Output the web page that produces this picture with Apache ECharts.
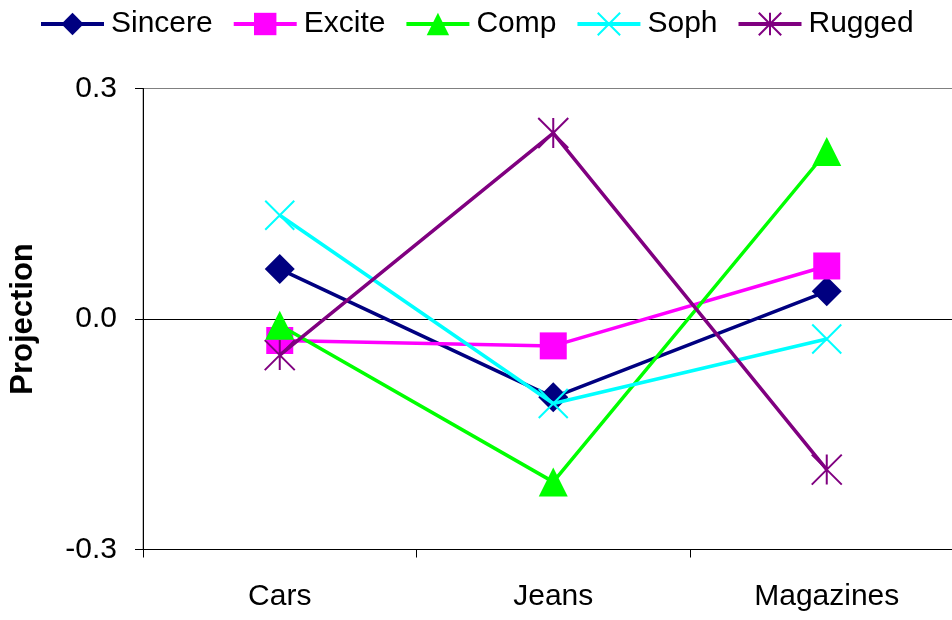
<!DOCTYPE html>
<html>
<head>
<meta charset="utf-8">
<script src="https://cdn.jsdelivr.net/npm/echarts@6/dist/echarts.min.js"></script>
<style>
html,body{margin:0;padding:0;background:#fff;}
#chart{width:952px;height:620px;}
</style>
</head>
<body>
<div id="chart"></div>
<script>
const categories = ['Cars', 'Jeans', 'Magazines'];
const seriesNames = ['Sincere', 'Excite', 'Comp', 'Soph', 'Rugged'];
const sincere = [0.065, -0.102, 0.036];
const excite = [-0.028, -0.035, 0.069];
const comp = [-0.008, -0.212, 0.218];
const soph = [0.135, -0.110, -0.026];
const rugged = [-0.047, 0.242, -0.196];
const yTicks = [-0.3, 0.0, 0.3];

const FONT = '"Liberation Sans", Arial, sans-serif';
const colors = ['#000080', '#FF00FF', '#00FF00', '#00FFFF', '#800080'];
const symbols = [
  'diamond',
  'rect',
  'triangle',
  'path://M0,0L10,10M10,0L0,10',
  'path://M0,0L10,10M10,0L0,10M5,0L5,10'
];
const sizes = [30, 27, 29, 29, 30];
const dataSets = [sincere, excite, comp, soph, rugged];

const series = seriesNames.map((name, i) => {
  const stroke = i >= 3;
  return {
    name: name,
    type: 'line',
    data: dataSets[i],
    symbol: symbols[i],
    symbolSize: sizes[i],
    showAllSymbol: true,
    lineStyle: { color: colors[i], width: 3.5 },
    itemStyle: stroke
      ? { color: colors[i], borderColor: colors[i], borderWidth: 2 }
      : { color: colors[i], borderWidth: 0 },
    emphasis: { disabled: true },
    animation: false,
    z: 3 + i
  };
});

const chart = echarts.init(document.getElementById('chart'), null, { renderer: 'canvas' });
chart.setOption({
  backgroundColor: '#fff',
  animation: false,
  textStyle: { fontFamily: FONT },
  legend: {
    data: seriesNames,
    left: 34,
    top: 4,
    itemWidth: 63,
    itemHeight: 28,
    itemGap: 19,
    lineStyle: { width: 4 },
    textStyle: { fontFamily: FONT, fontSize: 30, color: '#000', padding: [0, 0, 0, 2] }
  },
  grid: {
    left: 143,
    width: 820.5,
    top: 88.5,
    bottom: 70.5,
    show: true,
    borderColor: '#808080',
    borderWidth: 1,
    containLabel: false,
    outerBoundsMode: 'none'
  },
  xAxis: {
    type: 'category',
    data: categories,
    boundaryGap: true,
    axisLine: { show: true, onZero: false, lineStyle: { color: '#000', width: 1 } },
    axisTick: { show: true, inside: false, length: 8, lineStyle: { color: '#000' } },
    axisLabel: { fontFamily: FONT, fontSize: 30, color: '#000', margin: 32 },
    splitLine: { show: false }
  },
  yAxis: {
    type: 'value',
    min: yTicks[0],
    max: yTicks[yTicks.length - 1],
    interval: 0.3,
    name: 'Projection',
    nameLocation: 'middle',
    nameGap: 104,
    nameRotate: 90,
    nameTextStyle: { fontFamily: FONT, fontSize: 31, fontWeight: 'bold', color: '#000' },
    axisLine: { show: true, lineStyle: { color: '#000', width: 1 } },
    axisTick: { show: true, inside: false, length: 8, lineStyle: { color: '#000' } },
    axisLabel: {
      fontFamily: FONT, fontSize: 30, color: '#000', margin: 26,
      formatter: v => v.toFixed(1)
    },
    splitLine: { show: true, lineStyle: { color: ['#000', '#000', '#808080'], width: 1 } }
  },
  series: series
});
</script>
</body>
</html>
